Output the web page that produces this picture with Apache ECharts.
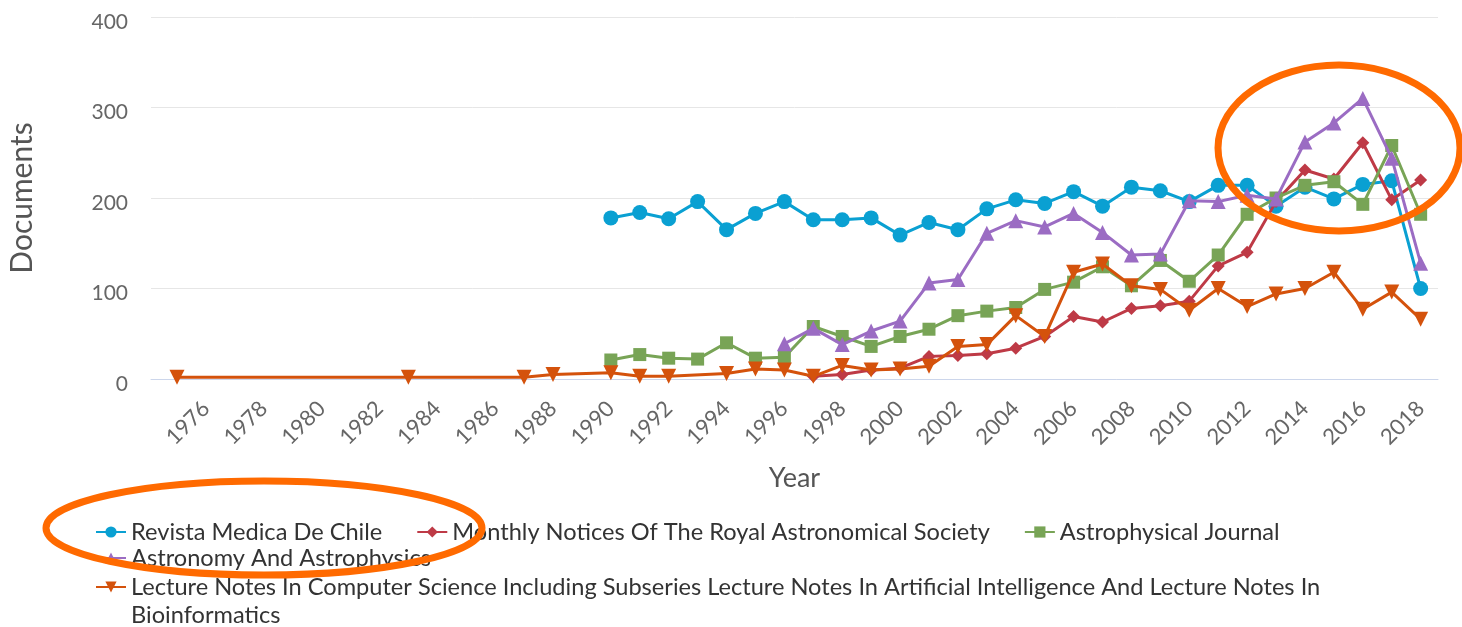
<!DOCTYPE html>
<html>
<head>
<meta charset="utf-8">
<script src="https://cdn.jsdelivr.net/npm/echarts@6/dist/echarts.min.js"></script>
<style>
html,body{margin:0;padding:0;background:#fff;}
#chart{width:1462px;height:627px;}
</style>
</head>
<body>
<div id="chart"></div>
<script>
// ---- data ----
const seriesNames = [
  "Revista Medica De Chile",
  "Monthly Notices Of The Royal Astronomical Society",
  "Astrophysical Journal",
  "Astronomy And Astrophysics",
  "Lecture Notes In Computer Science Including Subseries Lecture Notes In Artificial Intelligence And Lecture Notes In Bioinformatics"
];

const revistaYears = [1990,1991,1992,1993,1994,1995,1996,1997,1998,1999,2000,2001,2002,2003,2004,2005,2006,2007,2008,2009,2010,2011,2012,2013,2014,2015,2016,2017,2018];
const revistaValues = [178,184,177,196,165,183,196,176,176,178,159,173,165,188,198,194,207,191,212,208,196,214,214,191,212,199,215,219,100];

const mnrasYears = [1997,1998,1999,2000,2001,2002,2003,2004,2005,2006,2007,2008,2009,2010,2011,2012,2013,2014,2015,2016,2017,2018];
const mnrasValues = [3,5,10,12,25,26,28,34,47,69,63,78,81,86,125,140,196,231,221,261,198,220];

const apjYears = [1990,1991,1992,1993,1994,1995,1996,1997,1998,1999,2000,2001,2002,2003,2004,2005,2006,2007,2008,2009,2010,2011,2012,2013,2014,2015,2016,2017,2018];
const apjValues = [21,27,23,22,40,23,24,58,47,36,47,55,70,75,79,99,107,124,103,131,108,137,182,200,214,218,193,258,182];

const aaYears = [1996,1997,1998,1999,2000,2001,2002,2003,2004,2005,2006,2007,2008,2009,2010,2011,2012,2013,2014,2015,2016,2017,2018];
const aaValues = [39,56,38,53,64,106,110,161,175,168,183,162,137,138,197,196,203,199,262,283,310,244,128];

const lncsYears = [1975,1983,1987,1988,1990,1991,1992,1994,1995,1996,1997,1998,1999,2000,2001,2002,2003,2004,2005,2006,2007,2008,2009,2010,2011,2012,2013,2014,2015,2016,2017,2018];
const lncsValues = [2,2,2,5,7,3,3,6,11,10,3,15,10,11,14,36,38,70,47,118,127,103,99,76,100,80,94,100,118,77,96,66];

const yTicks = [0,100,200,300,400];
const xAxisTitle = "Year";
const yAxisTitle = "Documents";

// ---- chart ----
const colors = ["#0AA0D2", "#BE3A46", "#78A456", "#9B6CC3", "#D4520C"];
const symbols = ["circle", "diamond", "rect", "triangle", "triangle"];
const symbolSizes = [15, 13, 13, 15, 15];
const rotations = [0, 0, 0, 0, 180];
const yearLists = [revistaYears, mnrasYears, apjYears, aaYears, lncsYears];
const valueLists = [revistaValues, mnrasValues, apjValues, aaValues, lncsValues];

const FONT = "Lato, 'Open Sans', sans-serif";

const series = seriesNames.map((name, i) => ({
  name: name,
  type: "line",
  data: yearLists[i].map((y, k) => [y, valueLists[i][k]]),
  symbol: symbols[i],
  symbolSize: symbolSizes[i],
  symbolRotate: rotations[i],
  showAllSymbol: true,
  lineStyle: { width: 3, color: colors[i] },
  itemStyle: { color: colors[i] },
  emphasis: { disabled: true },
  z: 2 + i
}));

const legendText = { fontFamily: FONT, fontSize: 23.6, color: "#333", lineHeight: 28 };

const option = {
  animation: false,
  backgroundColor: "#ffffff",
  color: colors,
  grid: { left: 151, right: 24, top: 17, bottom: 248, containLabel: false, outerBoundsMode: "none" },
  xAxis: {
    type: "value",
    min: 1974.1,
    max: 2018.6,
    interval: 0.1,
    name: xAxisTitle,
    nameLocation: "middle",
    nameGap: 86,
    nameTextStyle: { fontFamily: FONT, fontSize: 27, color: "#555" },
    axisLine: { show: true, lineStyle: { color: "#ccd6eb", width: 1 } },
    axisTick: { show: false },
    splitLine: { show: false },
    axisLabel: {
      rotate: 45,
      margin: 26,
      fontFamily: FONT,
      fontSize: 22,
      color: "#666",
      showMinLabel: true,
      showMaxLabel: true,
      formatter: function (v) {
        const r = Math.round(v);
        if (Math.abs(v - r) < 1e-6 && r % 2 === 0 && r >= 1976 && r <= 2018) return String(r);
        return "";
      }
    }
  },
  yAxis: {
    type: "value",
    min: yTicks[0],
    max: yTicks[yTicks.length - 1],
    interval: 100,
    name: yAxisTitle,
    nameLocation: "middle",
    nameGap: 114,
    nameRotate: 90,
    nameTextStyle: { fontFamily: FONT, fontSize: 30, color: "#555" },
    axisLine: { show: false },
    axisTick: { show: false },
    splitLine: { show: true, lineStyle: { color: "#e6e6e6", width: 1 } },
    axisLabel: {
      margin: 23, color: "#666",
      formatter: function (v) { return "{a|" + v + "}"; },
      rich: { a: { fontFamily: FONT, fontSize: 21, color: "#666", padding: [10, 0, 0, 0] } }
    }
  },
  legend: [
    {
      data: seriesNames.slice(0, 3),
      left: 95, top: 518, orient: "horizontal", padding: 0,
      itemWidth: 30, itemHeight: 14, itemGap: 34,
      textStyle: legendText,
      selectedMode: false
    },
    {
      data: [seriesNames[3]],
      left: 95, top: 544, orient: "horizontal", padding: 0,
      itemWidth: 30, itemHeight: 14,
      textStyle: legendText,
      selectedMode: false
    },
    {
      data: [seriesNames[4]],
      left: 95, top: 545, orient: "horizontal", padding: 0,
      itemWidth: 30, itemHeight: 14,
      textStyle: legendText,
      formatter: function (name) { return "\n" + name.replace(" Bioinformatics", "\nBioinformatics"); },
      selectedMode: false
    }
  ],
  graphic: [
    {
      type: "ellipse", z: 100,
      shape: { cx: 1339, cy: 148, rx: 121, ry: 83 },
      style: { fill: null, stroke: "#FF6A00", lineWidth: 7 }
    },
    {
      type: "ellipse", z: 100,
      shape: { cx: 264, cy: 528, rx: 218, ry: 47 },
      style: { fill: null, stroke: "#FF6A00", lineWidth: 7 }
    }
  ],
  series: series
};

const chart = echarts.init(document.getElementById("chart"), null, { renderer: "canvas" });
chart.setOption(option);
</script>
</body>
</html>
